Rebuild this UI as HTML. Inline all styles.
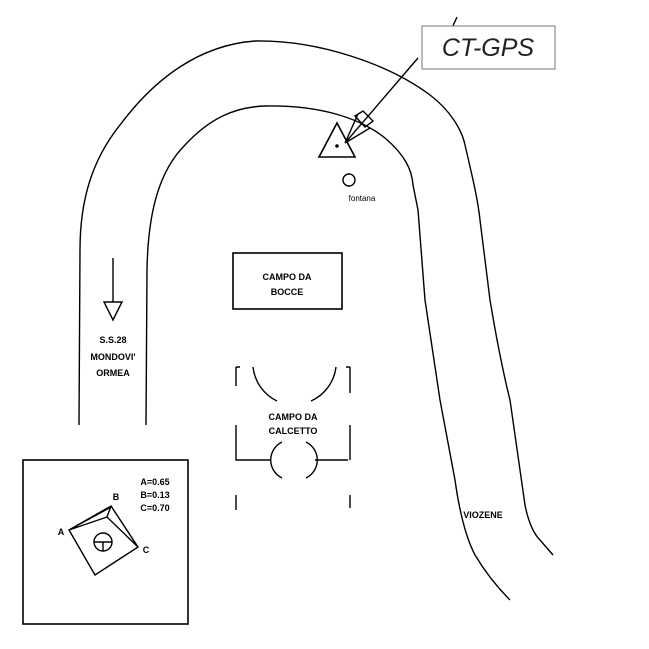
<!DOCTYPE html>
<html><head><style>body{margin:0;background:#fff}svg{display:block}</style></head><body>
<svg width="649" height="649" viewBox="0 0 649 649" xmlns="http://www.w3.org/2000/svg" font-family="Liberation Sans, sans-serif">
<rect width="649" height="649" fill="#fff"/>
<g fill="none" stroke="#000" stroke-width="1.4">
<path d="M79,425 L80,250 C80,200 92,160 120,125 C155,78 200,45 255,41 C320,40 390,65 430,95 C450,110 462,130 465,145 C472,175 478,200 480,220 L490,300 Q500,360 510,400 L525,505 Q530,530 540,540 L553,555"/>
<path d="M146,425 L147,270 C148,210 160,170 185,145 C210,118 235,107 265,106 C320,105 360,118 385,138 C405,155 412,170 413,185 L418,210 L425,300 L440,400 L455,480 Q462,530 475,555 Q490,580 510,600"/>
<path d="M457,17 L452,28"/>
<path d="M418,58 L345,143 M345,143 L358,114 M345,143 L370,128"/>
<path d="M355,116 L363,111 L373,121 L365,127 Z"/>
<path d="M319,157 L355,157 L337,123 Z" stroke-width="1.6"/>
<circle cx="349" cy="180" r="6"/>
<path d="M113,258 L113,302"/>
<path d="M104,302 L122,302 L113,320 Z"/>
<rect x="233" y="253" width="109" height="56" stroke-width="1.6"/>
<path d="M236,367 L236,386 M236,367 L240,367 M236,425 L236,460 L270,460 M236,495 L236,510"/>
<path d="M350,367 L350,393 M350,367 L346,367 M350,425 L350,460 M315,460 L348,460 M350,495 L350,508"/>
<path d="M253,367 A43,43 0 0 0 277,401 M336,367 A43,43 0 0 1 311,401"/>
<path d="M282,442 A20,20 0 0 0 282,478 M306,442 A20,20 0 0 1 306,478"/>
<rect x="23" y="460" width="165" height="164" stroke-width="1.6"/>
<path d="M69,530 L111,506 L138,547 L95,575 Z M69,530 L107,517 L138,547 M107,517 L111,506 M69,530 L111,507"/>
<circle cx="103" cy="542" r="9"/>
<path d="M94,542 L112,542 M103,542 L103,551"/>
</g>
<circle cx="337" cy="146" r="1.8"/>
<rect x="422" y="26" width="133" height="43" fill="#fff" stroke="#777" stroke-width="1"/>
<text x="488" y="56" font-size="25" font-style="italic" text-anchor="middle" fill="#222">CT-GPS</text>
<g font-size="9" font-weight="bold" text-anchor="middle" fill="#000">
<text x="287" y="280">CAMPO  DA</text><text x="287" y="295">BOCCE</text>
<text x="113" y="343">S.S.28</text><text x="113" y="360">MONDOVI'</text><text x="113" y="376">ORMEA</text>
<text x="293" y="420">CAMPO  DA</text><text x="293" y="434">CALCETTO</text>
<text x="483" y="518">VIOZENE</text>
<text x="362" y="201" font-size="8" font-weight="normal">fontana</text>
<text x="155" y="485">A=0.65</text><text x="155" y="498">B=0.13</text><text x="155" y="511">C=0.70</text>
<text x="116" y="500">B</text><text x="61" y="535">A</text><text x="146" y="553">C</text>
</g>
</svg>
</body></html>
